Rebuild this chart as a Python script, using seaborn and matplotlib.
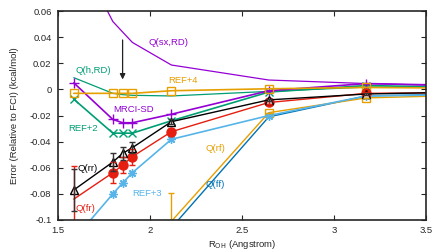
import numpy as np
import matplotlib
matplotlib.use("Agg")
import matplotlib.pyplot as plt
from matplotlib.ticker import FuncFormatter
import seaborn as sns

# O-H distances (Angstrom), 3..7 bohr
r_oh = [1.587, 1.799, 1.852, 1.905, 2.117, 2.646, 3.175, 3.704]

q_sx_rd = [0.110, 0.052, 0.044, 0.036, 0.0187, 0.0072, 0.0045, 0.0025]
q_h_rd = [0.009, -0.003, -0.004, -0.0045, -0.005, -0.0015, 0.0018, 0.0015]
ref4 = [-0.003, -0.003, -0.003, -0.003, -0.001, 0.0005, 0.0015, 0.001]
mrci_sd = [0.005, -0.023, -0.0255, -0.0255, -0.019, -0.001, 0.0045, 0.003]
ref2 = [-0.0075, -0.0335, -0.0335, -0.0335, -0.024, -0.002, 0.003, 0.0015]
q_rr = [-0.077, -0.0556, -0.049, -0.0446, -0.0247, -0.008, -0.0035, -0.002]
q_rr_err = [0.016, 0.007, 0.005, 0.004, 0.002, 0.001, 0.001, 0.0]
q_fr = [-0.084, -0.0638, -0.058, -0.0515, -0.0324, -0.010, -0.003, -0.0025]
q_fr_err = [0.025, 0.008, 0.006, 0.006, 0.002, 0.001, 0.001, 0.0]
ref3 = [-0.115, -0.080, -0.0717, -0.0638, -0.0382, -0.020, -0.005, -0.004]
q_rf = [np.nan, np.nan, np.nan, np.nan, -0.101, -0.0178, -0.0065, -0.0045]
q_rf_err = [0, 0, 0, 0, 0.022, 0.0, 0.0, 0.0]
q_ff = [np.nan, np.nan, np.nan, np.nan, -0.106, -0.021, -0.005, -0.0035]

PURPLE = "#9400d3"
GREEN = "#009e73"
ORANGE = "#e69f00"
LBLUE = "#56b4e9"
BLUE = "#0072b2"
RED = "#e51e10"

sns.set_style("ticks")
plt.rcParams["font.family"] = ["Liberation Sans", "DejaVu Sans"]
plt.rcParams["font.size"] = 6.8

fig = plt.figure(figsize=(4.48, 2.52), dpi=100)
ax = fig.add_axes([0.129, 0.127, 0.822, 0.829])


def line(y, color, lw=1.2, **kw):
    sns.lineplot(x=r_oh, y=y, ax=ax, color=color, lw=lw, sort=False,
                 estimator=None, markeredgecolor=color, mew=1.0, **kw)


# curves
line(q_sx_rd, PURPLE, lw=0.9)
line(q_h_rd, GREEN, lw=0.9)
line(q_ff, BLUE, lw=1.0)
line(q_rf, ORANGE, lw=1.0, marker="s", ms=6, markerfacecolor="none",
     markevery=slice(1, None))
line(ref3, LBLUE, marker=(8, 2, 0), ms=6)
line(ref2, GREEN, marker="x", ms=6)
line(mrci_sd, PURPLE, marker="+", ms=7)
line(ref4, ORANGE, marker="s", ms=6, markerfacecolor="none")
line(q_fr, RED, lw=1.0, marker="o", ms=6.5, markerfacecolor=RED,
     markevery=slice(1, None))
line(q_rr, "black", lw=1.0, marker="^", ms=6, markerfacecolor="white")

# error bars
ax.errorbar(r_oh, q_fr, yerr=q_fr_err, fmt="none", ecolor=RED, elinewidth=1.0,
            capsize=2, capthick=1.0)
ax.errorbar(r_oh, q_rr, yerr=q_rr_err, fmt="none", ecolor="#333333",
            elinewidth=1.0, capsize=2, capthick=1.0)
ax.errorbar(r_oh, q_rf, yerr=q_rf_err, fmt="none", ecolor=ORANGE,
            elinewidth=1.0, capsize=2.5, capthick=1.0)

# arrow
ax.annotate("", xy=(1.852, 0.0055), xytext=(1.852, 0.040),
            arrowprops=dict(arrowstyle="-|>", color="#222222", lw=0.9,
                            mutation_scale=8))

# labels on curves
labels = [
    ("Q(sx,RD)", 1.995, 0.036, PURPLE),
    ("Q(h,RD)", 1.598, 0.0148, GREEN),
    ("REF+4", 2.098, 0.0066, ORANGE),
    ("MRCI-SD", 1.80, -0.0152, PURPLE),
    ("REF+2", 1.555, -0.030, GREEN),
    ("Q(rr)", 1.605, -0.0607, "black"),
    ("Q(fr)", 1.598, -0.0915, RED),
    ("REF+3", 1.907, -0.0795, LBLUE),
    ("Q(rf)", 2.303, -0.0452, ORANGE),
    ("Q(ff)", 2.303, -0.073, BLUE),
]
for txt, x, y, c in labels:
    ax.text(x, y, txt, color=c, ha="left", va="center", fontsize=6.8)

ax.set_xlim(1.5, 3.5)
ax.set_ylim(-0.1, 0.06)
ax.set_xticks([1.5, 2, 2.5, 3, 3.5])
ax.set_yticks(np.arange(-0.1, 0.0601, 0.02))
fmt = FuncFormatter(lambda v, p: "%g" % round(v, 3))
ax.xaxis.set_major_formatter(fmt)
ax.yaxis.set_major_formatter(fmt)
ax.tick_params(direction="in", top=True, right=True, length=3.5, width=0.8,
               labelsize=6.8, pad=4.5)
for s in ax.spines.values():
    s.set_linewidth(1.2)
    s.set_visible(True)

ax.set_xlabel(r"R$_{\rm OH}$ (Angstrom)", fontsize=6.8, labelpad=2)
ax.set_ylabel("Error (Relative to FCI) (kcal/mol)", fontsize=6.8, labelpad=8)

fig.savefig("out.png", dpi=100)
